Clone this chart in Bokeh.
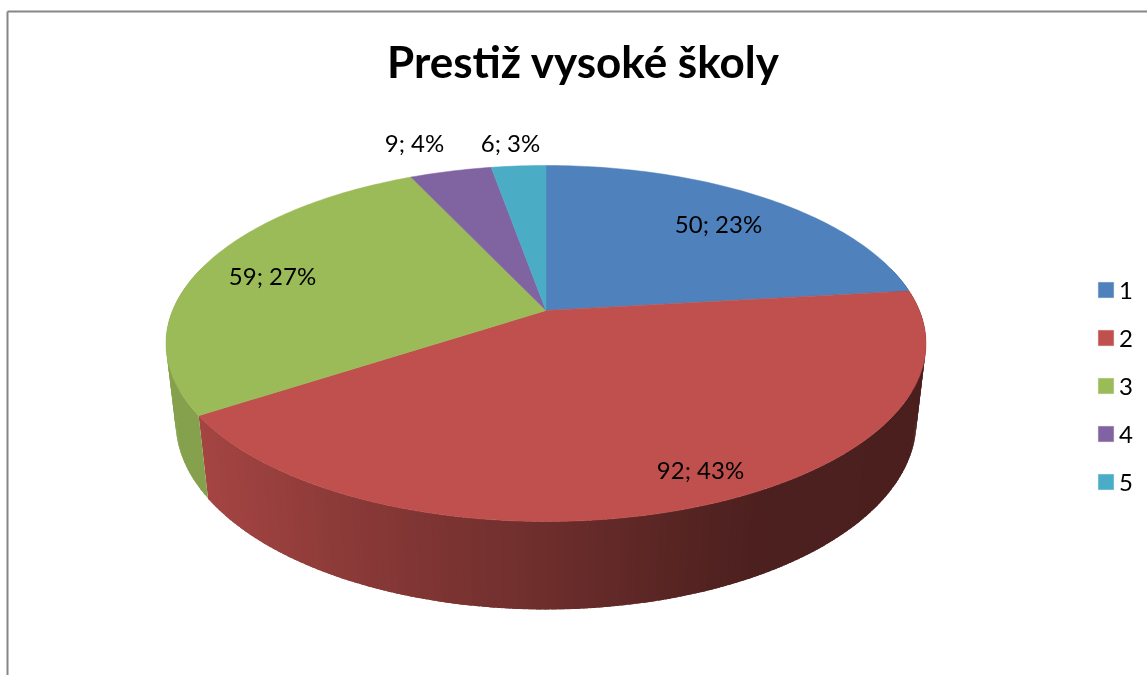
import math
from bokeh.plotting import figure
from bokeh.models import Range1d, Legend, LegendItem
from bokeh.core.properties import value
from bokeh.embed import file_html
from bokeh.resources import INLINE

# ---- data ----
title_text = "Prestiž vysoké školy"
categories = ["1", "2", "3", "4", "5"]
values = [50, 92, 59, 9, 6]
top_colors = ["#4F81BD", "#BF504D", "#9BBB59", "#8064A2", "#4BACC6"]

# ---- layout (pixels of the picture) ----
W, H = 1147, 675
CX, CY = 545.5, 310.0
A, B, K = 373.4, 171.9, 0.1854   # perspective disc
M, D = 0.025, 79.1               # wall depth
label_pos = [(718, 223), (700, 469), (272, 275), (414, 142), (510, 142)]
FONT = "Lato"


def top(theta):
    u, v = math.sin(theta), math.cos(theta)
    w = 1 + K * v
    return CX + A * u / w, CY - B * v / w


def bottom(theta):
    u, v = math.sin(theta), math.cos(theta)
    w = 1 + K * v + M
    return CX + A * u / w, CY + (-B * v + D) / w


def mix(stops, t):
    for (t0, c0), (t1, c1) in zip(stops, stops[1:]):
        if t <= t1:
            f = max(0.0, (t - t0) / (t1 - t0))
            return "#%02x%02x%02x" % tuple(round(a + (b - a) * f) for a, b in zip(c0, c1))
    return "#%02x%02x%02x" % tuple(round(c) for c in stops[-1][1])


# brightness of the wall from left to right, per base colour
def wall_color(color, x):
    rgb = tuple(int(color[i:i + 2], 16) for i in (1, 3, 5))
    shade = [(200, 0.86), (350, 0.72), (546, 0.57), (700, 0.44), (760, 0.40), (930, 0.39)]
    stops = [(px, tuple(c * s for c in rgb)) for px, s in shade]
    return mix(stops, x)


p = figure(width=W, height=H, x_range=Range1d(0, W), y_range=Range1d(H, 0),
           toolbar_location=None, output_backend="svg", min_border=0,
           outline_line_color=None, background_fill_color="white",
           border_fill_color="white")
p.axis.visible = False
p.grid.visible = False
p.styles = {"position": "fixed", "left": "0px", "top": "0px"}

# chart frame
p.segment([7, 7], [11, 11], [7, W], [H, 11], line_color="#868686", line_width=2)

total = sum(values)
edges = [0.0]
for val in values:
    edges.append(edges[-1] + val / total * 2 * math.pi)

# walls: front part only, drawn as strips without strokes, each overlapping the next
sx, sy, sc = [], [], []
for i, col in enumerate(top_colors):
    a0, a1 = edges[i], edges[i + 1]
    n = max(2, int((a1 - a0) / math.radians(1.0)))
    step = (a1 - a0) / n
    for j in range(n):
        t0 = a0 + step * j
        t1 = t0 + step
        if math.cos(t0 + step / 2) > 0.25:
            continue
        t1x = min(a1, t1 + step * 0.8)
        xa, ya = top(t0)
        xb, yb = top(t1x)
        xc, yc = bottom(t1x)
        xd, yd = bottom(t0)
        sx.append([xa, xb, xc, xd])
        sy.append([ya, yb, yc, yd])
        sc.append(wall_color(col, (top(t0)[0] + top(t1)[0]) / 2))
p.patches(sx, sy, fill_color=sc, line_color=None)

# top faces
items = []
for i, col in enumerate(top_colors):
    a0, a1 = edges[i], edges[i + 1]
    n = max(8, int((a1 - a0) / math.radians(1)))
    xs, ys = [CX], [CY]
    for j in range(n + 1):
        x, y = top(a0 + (a1 - a0) * j / n)
        xs.append(x)
        ys.append(y)
    r = p.patch(xs, ys, fill_color=col, line_color=col, line_width=0.5)
    items.append(LegendItem(label=categories[i], renderers=[r]))

# data labels
labels = [f"{v}; {round(100 * v / total)}%" for v in values]
p.text([q[0] for q in label_pos], [q[1] for q in label_pos], text=labels,
       text_font=value(FONT), text_font_size="24px", text_color="black",
       text_align="center", text_baseline="middle")

# title
p.text([583], [60], text=[title_text], text_font=value(FONT), text_font_size="44px",
       text_font_style="bold", text_color="black", text_align="center", text_baseline="middle")

legend = Legend(items=items, location=(1096, H - 496), orientation="vertical",
                glyph_width=19, glyph_height=19, label_standoff=4, spacing=19,
                label_text_font=FONT, label_text_font_size="24px", label_text_color="black",
                border_line_color=None, background_fill_alpha=0, padding=0, margin=0,
                label_height=25)
p.add_layout(legend, "center")

open("out.html", "w").write(file_html(p, INLINE))
